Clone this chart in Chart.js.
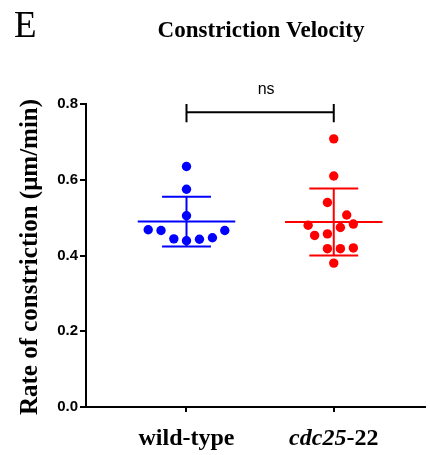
<!DOCTYPE html>
<html>
<head>
<meta charset="utf-8">
<script src="https://cdn.jsdelivr.net/npm/chart.js@4"></script>
<style>
  html, body { margin: 0; padding: 0; background: #fff; }
  #wrap { width: 430px; height: 455px; position: relative; }
</style>
</head>
<body>
<div id="wrap"><canvas id="chart"></canvas></div>
<script>
// Groups and values
const groups = ['wild-type', 'cdc25-22'];
const groupColors = ['#0000ff', '#ff0000'];

const wildTypeValues = [0.635, 0.575, 0.505, 0.468, 0.466, 0.444, 0.439, 0.443, 0.447, 0.466];
const wildTypeJitter = [0, 0, 0, -0.26, -0.173, -0.086, 0, 0.088, 0.176, 0.26];

const cdc25Values = [0.708, 0.610, 0.540, 0.507, 0.483, 0.480, 0.474, 0.453, 0.457, 0.418, 0.418, 0.420, 0.380];
const cdc25Jitter = [0, 0, -0.043, 0.088, 0.133, -0.174, 0.045, -0.13, -0.043, -0.043, 0.045, 0.133, 0];

const groupMeans = [0.4895, 0.4885];
const groupSD = [0.0655, 0.0885];

const yTicks = [0, 0.2, 0.4, 0.6, 0.8];
const bracket = { from: 1, to: 2, y: 0.778, label: 'ns' };

const meanHalf = 0.331;
const capHalf = 0.166;

function seg(x1, y1, x2, y2, color, order) {
    return {
        type: 'line',
        data: [{ x: x1, y: y1 }, { x: x2, y: y2 }],
        borderColor: color,
        borderWidth: 2,
        pointRadius: 0,
        fill: false,
        order: order
    };
}

const datasets = [];
const allValues = [wildTypeValues, cdc25Values];
const allJitter = [wildTypeJitter, cdc25Jitter];

allValues.forEach((vals, g) => {
    const cx = g + 1;
    datasets.push({
        type: 'scatter',
        label: groups[g],
        data: vals.map((v, i) => ({ x: cx + allJitter[g][i], y: v })),
        backgroundColor: groupColors[g],
        borderColor: groupColors[g],
        pointRadius: 4.7,
        pointBorderWidth: 0,
        order: 1
    });
    const m = groupMeans[g], s = groupSD[g];
    datasets.push(seg(cx - meanHalf, m, cx + meanHalf, m, groupColors[g], 2));
    datasets.push(seg(cx, m - s, cx, m + s, groupColors[g], 2));
    datasets.push(seg(cx - capHalf, m + s, cx + capHalf, m + s, groupColors[g], 2));
    datasets.push(seg(cx - capHalf, m - s, cx + capHalf, m - s, groupColors[g], 2));
});

// significance bracket
datasets.push(seg(bracket.from, bracket.y, bracket.to, bracket.y, '#000', 3));
datasets.push(seg(bracket.from, bracket.y - 0.026, bracket.from, bracket.y + 0.027, '#000', 3));
datasets.push(seg(bracket.to, bracket.y - 0.026, bracket.to, bracket.y + 0.027, '#000', 3));

const textPlugin = {
    id: 'texts',
    afterDraw(chart) {
        const ctx = chart.ctx;
        const xs = chart.scales.x;
        ctx.save();
        ctx.fillStyle = '#000';
        // panel letter
        ctx.font = '37px "Liberation Serif"';
        ctx.textAlign = 'left';
        ctx.textBaseline = 'alphabetic';
        ctx.fillText('E', 14, 37);
        // title
        ctx.font = 'bold 23px "Liberation Serif"';
        ctx.textAlign = 'center';
        ctx.fillText('Constriction Velocity', 261, 37);
        // y title
        ctx.save();
        ctx.translate(37, 257);
        ctx.rotate(-Math.PI / 2);
        ctx.font = 'bold 25px "Liberation Serif"';
        ctx.fillText('Rate of constriction (\u03bcm/min)', 0, 0);
        ctx.restore();
        // ns label
        ctx.font = '16px "Liberation Sans"';
        ctx.fillText(bracket.label, (xs.getPixelForValue(bracket.from) + xs.getPixelForValue(bracket.to)) / 2 + 6, 94);
        // group labels
        const baseY = 445;
        ctx.font = 'bold 24px "Liberation Serif"';
        ctx.fillText(groups[0], xs.getPixelForValue(1), baseY);
        const parts = groups[1].split('-');
        ctx.font = 'italic bold 24px "Liberation Serif"';
        const w1 = ctx.measureText(parts[0]).width;
        ctx.font = 'bold 24px "Liberation Serif"';
        const w2 = ctx.measureText('-' + parts[1]).width;
        let start = xs.getPixelForValue(2) - (w1 + w2) / 2;
        ctx.textAlign = 'left';
        ctx.font = 'italic bold 24px "Liberation Serif"';
        ctx.fillText(parts[0], start, baseY);
        ctx.font = 'bold 24px "Liberation Serif"';
        ctx.fillText('-' + parts[1], start + w1, baseY);
        ctx.restore();
    }
};

new Chart(document.getElementById('chart').getContext('2d'), {
    type: 'scatter',
    data: { datasets: datasets },
    options: {
        responsive: true,
        maintainAspectRatio: false,
        animation: false,
        layout: { padding: { top: 104, left: 0, right: 0, bottom: 0 } },
        plugins: {
            legend: { display: false },
            tooltip: { enabled: false }
        },
        scales: {
            x: {
                type: 'linear',
                min: 1 - 101 / 148,
                max: 2 + 92 / 148,
                afterBuildTicks: s => { s.ticks = [{ value: 1 }, { value: 2 }]; },
                afterFit: s => { s.height = 48; },
                border: { color: '#000', width: 2 },
                grid: { drawOnChartArea: false, drawTicks: true, tickLength: 5, color: '#000', lineWidth: 2 },
                ticks: { callback: () => '' }
            },
            y: {
                min: 0,
                max: 0.8,
                afterBuildTicks: s => { s.ticks = yTicks.map(v => ({ value: v })); },
                afterFit: s => { s.width = 86; },
                border: { color: '#000', width: 2 },
                grid: { drawOnChartArea: false, drawTicks: true, tickLength: 6, color: '#000', lineWidth: 2 },
                ticks: {
                    padding: 2,
                    color: '#000',
                    font: { family: '"Liberation Sans"', weight: 'bold', size: 15 },
                    callback: v => v.toFixed(1)
                }
            }
        }
    },
    plugins: [textPlugin]
});
</script>
</body>
</html>
